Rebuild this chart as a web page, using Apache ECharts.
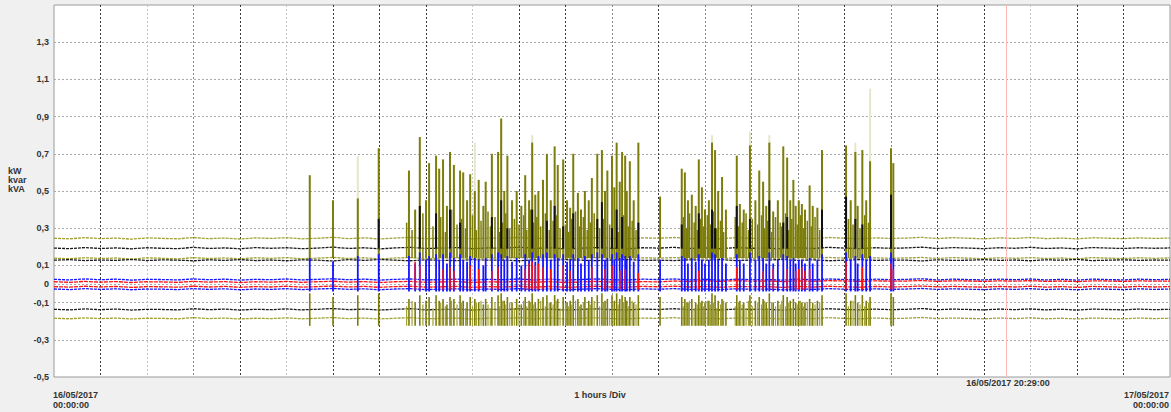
<!DOCTYPE html>
<html><head><meta charset="utf-8">
<script src="https://cdn.jsdelivr.net/npm/echarts@6/dist/echarts.min.js"></script>
<style>html,body{margin:0;padding:0;background:#f0f0f0}#c{width:1171px;height:412px}</style>
</head><body><div id="c"></div><script>
// ---- baseline traces, one value every STEP minutes from 00:00 to 24:00 ----
const STEP = 20;
const oliveHi = [
.246,.243,.249,.244,.247,.241,.248,.245,.243,.250,
.244,.247,.242,.248,.245,.249,.243,.246,.251,.244,
.248,.242,.247,.250,.244,.246,.249,.243,.247,.245,
.251,.244,.248,.242,.246,.249,.245,.243,.248,.246,
.250,.244,.247,.243,.249,.245,.246,.242,.248,.244,
.250,.246,.243,.248,.245,.247,.251,.244,.249,.246,
.243,.248,.245,.250,.244,.247,.242,.249,.246,.244,
.248,.245,.247];
const blackHi = [
.193,.190,.196,.191,.194,.189,.195,.192,.190,.197,
.191,.194,.189,.196,.192,.195,.190,.193,.198,.191,
.195,.189,.194,.197,.191,.193,.196,.190,.194,.192,
.198,.191,.195,.189,.193,.196,.192,.190,.195,.193,
.197,.191,.194,.190,.196,.192,.193,.189,.195,.191,
.197,.193,.190,.195,.192,.194,.198,.191,.196,.193,
.190,.195,.192,.197,.191,.194,.189,.196,.193,.191,
.195,.192,.194];
const oliveMid = [
.139,.136,.141,.137,.140,.134,.141,.138,.135,.142,
.137,.140,.135,.141,.138,.142,.136,.139,.143,.137,
.141,.135,.140,.142,.136,.139,.141,.135,.140,.138,
.143,.137,.141,.135,.139,.142,.138,.136,.141,.139,
.142,.137,.140,.136,.141,.138,.139,.135,.141,.137,
.143,.139,.136,.141,.138,.140,.143,.137,.142,.139,
.136,.141,.138,.142,.137,.140,.135,.142,.139,.137,
.141,.138,.140];
const blackMid = [
.128,.131,.126,.129,.127,.132,.126,.130,.128,.125,
.130,.127,.131,.126,.129,.125,.130,.128,.124,.131,
.127,.132,.128,.125,.130,.127,.126,.131,.128,.129,
.125,.130,.127,.131,.128,.126,.129,.131,.127,.128,
.126,.130,.128,.131,.126,.129,.128,.132,.127,.130,
.125,.128,.131,.127,.129,.128,.124,.130,.127,.128,
.131,.127,.129,.125,.130,.128,.132,.126,.128,.130,
.127,.129,.128];
const blueHi = [
.025,.022,.027,.023,.026,.021,.025,.024,.022,.027,
.023,.026,.021,.025,.023,.027,.022,.025,.028,.023,
.026,.021,.025,.027,.022,.024,.026,.021,.025,.023,
.027,.022,.026,.021,.024,.027,.023,.022,.026,.024,
.027,.022,.025,.021,.026,.023,.024,.021,.026,.022,
.027,.024,.022,.026,.023,.025,.028,.022,.026,.024,
.022,.026,.023,.027,.022,.025,.021,.026,.024,.022,
.026,.023,.025];
const redHi = [
.012,.009,.014,.010,.013,.008,.012,.011,.009,.014,
.010,.013,.008,.012,.010,.014,.009,.012,.015,.010,
.013,.008,.012,.014,.009,.011,.013,.008,.012,.010,
.014,.009,.013,.008,.011,.014,.010,.009,.013,.011,
.016,.013,.017,.014,.018,.015,.016,.013,.017,.014,
.018,.016,.014,.017,.015,.016,.019,.014,.017,.016,
.014,.017,.015,.018,.014,.016,.013,.017,.016,.014,
.017,.015,.016];
const redLo = [
-.014,-.017,-.012,-.016,-.013,-.018,-.014,-.015,-.017,-.012,
-.016,-.013,-.018,-.014,-.016,-.012,-.017,-.014,-.011,-.016,
-.013,-.018,-.014,-.012,-.017,-.015,-.013,-.018,-.014,-.016,
-.012,-.017,-.013,-.018,-.015,-.012,-.016,-.017,-.013,-.015,
-.012,-.016,-.014,-.017,-.013,-.015,-.014,-.018,-.013,-.016,
-.012,-.015,-.017,-.013,-.016,-.014,-.011,-.016,-.013,-.015,
-.017,-.013,-.016,-.012,-.017,-.014,-.018,-.013,-.015,-.017,
-.013,-.016,-.014];
const blueLo = [
-.027,-.030,-.025,-.029,-.026,-.031,-.027,-.028,-.030,-.025,
-.029,-.026,-.031,-.027,-.029,-.025,-.030,-.027,-.024,-.029,
-.026,-.031,-.027,-.025,-.030,-.028,-.026,-.031,-.027,-.029,
-.025,-.030,-.026,-.031,-.028,-.025,-.029,-.030,-.026,-.028,
-.025,-.029,-.027,-.030,-.026,-.028,-.027,-.031,-.026,-.029,
-.025,-.028,-.030,-.026,-.029,-.027,-.024,-.029,-.026,-.028,
-.030,-.026,-.029,-.025,-.030,-.027,-.031,-.026,-.028,-.030,
-.026,-.029,-.027];
const blackLo = [
-.136,-.139,-.134,-.138,-.135,-.140,-.136,-.137,-.139,-.133,
-.138,-.135,-.140,-.136,-.138,-.134,-.139,-.136,-.132,-.138,
-.135,-.140,-.136,-.133,-.139,-.137,-.135,-.140,-.136,-.138,
-.133,-.139,-.135,-.140,-.137,-.134,-.138,-.139,-.135,-.137,
-.133,-.138,-.136,-.139,-.135,-.137,-.136,-.140,-.135,-.138,
-.133,-.137,-.139,-.135,-.138,-.136,-.132,-.138,-.135,-.137,
-.139,-.135,-.138,-.134,-.139,-.136,-.140,-.135,-.137,-.139,
-.135,-.138,-.136];
const oliveLo = [
-.184,-.187,-.182,-.186,-.183,-.188,-.184,-.185,-.187,-.181,
-.186,-.183,-.188,-.184,-.186,-.182,-.187,-.184,-.180,-.186,
-.183,-.188,-.184,-.181,-.187,-.185,-.183,-.188,-.184,-.186,
-.181,-.187,-.183,-.188,-.185,-.182,-.186,-.187,-.183,-.185,
-.181,-.186,-.184,-.187,-.183,-.185,-.184,-.188,-.183,-.186,
-.181,-.185,-.187,-.183,-.186,-.184,-.180,-.186,-.183,-.185,
-.187,-.183,-.186,-.182,-.187,-.184,-.188,-.183,-.185,-.187,
-.183,-.186,-.184];

// ---- load events (minute of day) with peak values ----
const spikeT = [330,360,392,419,458,466,472,480,484,493,497,502,507,511,516,524,528,533,537,543,
548,554,557,565,573,577,581,585,591,597,603,608,613,617,621,625,631,636,641,646,
650,657,662,666,670,676,680,685,690,694,701,707,711,714,720,723,726,730,733,737,
739,743,748,754,782,810,814,818,823,828,832,836,840,845,849,853,857,862,867,881,
885,890,898,905,910,915,919,923,928,934,941,946,950,954,957,961,965,969,975,979,
985,991,1022,1028,1034,1037,1043,1048,1053,1080,1083];
const oliveTop = [.585,.45,.46,.73,.61,.40,.79,.45,.65,.69,.62,.67,.42,.71,.64,.61,.60,.45,.59,.50,
.56,.42,.55,.70,.71,.89,.50,.69,.45,.50,.42,.585,.45,.76,.48,.50,.56,.70,.45,.74,
.64,.67,.45,.41,.70,.49,.40,.50,.45,.57,.70,.72,.50,.61,.69,.52,.76,.55,.71,.69,
.50,.66,.45,.76,.47,.62,.60,.45,.48,.42,.67,.52,.40,.45,.76,.72,.50,.575,.40,.69,
.43,.40,.745,.45,.61,.55,.42,.76,.39,.45,.74,.68,.45,.56,.42,.45,.43,.40,.53,.42,
.41,.72,.745,.45,.71,.42,.72,.45,.66,.73,.65];
const blueTop = [.14,.12,.15,.16,.15,.11,.17,.13,.15,.16,.13,.16,.11,.17,.14,.16,.13,.12,.15,.14,
.13,.10,.14,.16,.17,.16,.13,.15,.12,.14,.10,.16,.13,.17,.12,.15,.16,.17,.13,.16,
.14,.16,.12,.13,.16,.14,.11,.15,.13,.16,.17,.16,.13,.14,.16,.13,.17,.14,.16,.15,
.13,.15,.12,.16,.13,.15,.14,.11,.14,.12,.16,.13,.11,.13,.17,.16,.13,.14,.11,.16,
.13,.11,.17,.13,.15,.14,.11,.17,.11,.13,.16,.15,.13,.14,.11,.13,.13,.11,.14,.11,
.13,.16,.17,.13,.15,.11,.16,.13,.15,.17,.14];
const lowerTop = [-.05,-.07,-.06,-.05,-.08,-.10,-.06,-.09,-.07,-.06,-.09,-.08,-.11,-.07,-.08,-.06,-.09,-.10,-.07,-.08,
-.10,-.11,-.08,-.07,-.06,-.05,-.09,-.07,-.10,-.08,-.11,-.07,-.09,-.05,-.10,-.08,-.07,-.06,-.10,-.06,
-.08,-.07,-.10,-.09,-.06,-.08,-.11,-.07,-.09,-.07,-.06,-.05,-.09,-.08,-.06,-.09,-.05,-.08,-.06,-.07,
-.09,-.07,-.10,-.06,-.07,-.07,-.08,-.10,-.08,-.10,-.06,-.09,-.10,-.09,-.05,-.06,-.09,-.08,-.10,-.06,
-.09,-.10,-.06,-.09,-.07,-.08,-.10,-.05,-.10,-.09,-.06,-.07,-.09,-.08,-.10,-.09,-.10,-.10,-.08,-.10,
-.09,-.06,-.05,-.09,-.06,-.10,-.06,-.09,-.07,-.05,-.07];
// smaller load events between the main ones
const fillT = [455,462,476,489,499,505,513,520,526,531,540,545,551,560,563,569,575,579,583,588,
594,600,606,610,615,619,623,628,634,639,644,648,653,660,664,668,673,678,683,688,
692,697,704,709,717,728,735,741,746,751,812,816,820,826,830,834,838,843,847,851,
855,860,864,879,883,888,893,896,901,908,913,917,921,926,931,937,939,944,948,952,
959,963,967,972,977,982,988,1025,1031,1040,1046,1051];
const fillTop = [.33,.29,.38,.31,.36,.28,.40,.32,.35,.30,.37,.29,.34,.39,.31,.36,.28,.33,.38,.30,
.35,.32,.37,.29,.40,.33,.36,.31,.38,.29,.34,.37,.30,.32,.28,.35,.39,.31,.36,.29,
.33,.38,.30,.35,.32,.28,.37,.31,.34,.29,.36,.30,.38,.33,.29,.35,.31,.37,.32,.39,
.30,.34,.28,.36,.31,.33,.38,.29,.35,.32,.37,.30,.34,.28,.36,.33,.31,.38,.29,.35,
.32,.37,.30,.34,.31,.36,.29,.35,.32,.30,.37,.33];
const fillLow = [-.12,-.09,-.11,-.13,-.10,-.12,-.09,-.11,-.10,-.13,-.12,-.10,-.09,-.11,-.13,-.10,-.12,-.09,-.11,-.10,
-.13,-.11,-.09,-.12,-.10,-.11,-.13,-.09,-.12,-.10,-.11,-.09,-.13,-.10,-.12,-.11,-.09,-.12,-.10,-.13,
-.11,-.09,-.12,-.10,-.13,-.11,-.10,-.12,-.09,-.11,-.12,-.10,-.09,-.13,-.11,-.10,-.12,-.09,-.11,-.10,
-.13,-.11,-.09,-.12,-.10,-.11,-.13,-.09,-.12,-.10,-.11,-.09,-.13,-.10,-.12,-.11,-.09,-.12,-.10,-.13,
-.11,-.09,-.12,-.10,-.13,-.11,-.10,-.12,-.09,-.11,-.12,-.10];
const blackT = [419,472,493,511,524,565,577,585,617,636,646,657,670,701,707,720,726,733,754,810,832,849,853,881,898,923,941,946,991,1022,1034,1043,1080];
const blackTop = [.35,.42,.38,.40,.33,.36,.45,.30,.40,.34,.42,.31,.38,.35,.44,.30,.40,.36,.33,.32,.38,.40,.30,.42,.35,.45,.33,.36,.40,.47,.35,.32,.48];
const paleT = [392,543,617,849,898,923,991,1034,1053];
const paleTop = [.69,.76,.80,.80,.82,.80,.70,.76,1.05];
const redT = [466,472,502,511,516,537,548,565,573,608,613,617,621,625,631,641,657,666,694,711,720,730,737,754,832,881,915,928,946,957,961,965,969,975,1022,1043,1080,1083];
const redTop = [.12,.10,.08,.09,.07,.10,.08,.07,.09,.08,.11,.12,.10,.11,.09,.08,.10,.07,.09,.08,.10,.07,.08,.06,.07,.09,.07,.08,.08,.07,.08,.09,.07,.08,.12,.09,.11,.08];
// band levels the event traces start from
const oliveBase = 0.14, paleBase = 0.25, blackBase = 0.19, blueBase = -0.04, redBase = -0.03, lowerBase = -0.225;

// ---- axes / labels ----
const yTickValues = [-0.5,-0.3,-0.1,0,0.1,0.3,0.5,0.7,0.9,1.1,1.3];
const yTickLabels = ['-0,5','-0,3','-0,1','0','0,1','0,3','0,5','0,7','0,9','1,1','1,3'];
const unitLabels = ['kW','kvar','kVA'];
const startLabel = ['16/05/2017','00:00:00'];
const endLabel = ['17/05/2017','00:00:00'];
const divLabel = '1 hours /Div';
const cursorMinute = 1229;
const cursorLabel = '16/05/2017 20:29:00';

const D='#3a3a3a', M='#8a8a8a', L='#c4c4c4', T='rgba(0,0,0,0)';
const hourShade = [T,D,L,M,D,L,D,D,D,L,D,D,M,D,M,M,M,D,M,D,D,L,D,D,T];
const yShade = [];
for (let k = -5; k <= 15; k++) {
  const on = yTickValues.some(v => Math.round(v*10) === k) && k !== -5;
  yShade.push(on ? '#a8a8a8' : T);
}
const labelMap = {};
yTickValues.forEach((v,i)=>{ labelMap[Math.round(v*10)] = yTickLabels[i]; });

function band(arr, color, z, dash) {
  return {type:'line', data: arr.map((v,i)=>[i*STEP, v]), showSymbol:false, silent:true, z,
    lineStyle:{color, width:1.3, type: dash || [3,1]}, animation:false};
}
function segs(t, lo, hi, color, width, z) {
  return {type:'custom', silent:true, z, animation:false, clip:true,
    encode:{x:0, y:[1,2]},
    data: t.map((m,i)=>[m, Array.isArray(lo)?lo[i]:lo, hi[i]]),
    renderItem:(p, api)=>{
      const a = api.coord([api.value(0), api.value(1)]);
      const b = api.coord([api.value(0), api.value(2)]);
      return {type:'line', shape:{x1:a[0], y1:a[1], x2:b[0], y2:b[1]}, style:{stroke:color, lineWidth:width}};
    }};
}
const OLIVE='#7d7d0c', OLIVE2='#a0a035', PALE='#e6e6cc', BLUE='#1414ff', RED='#ff1010';
const font = 'Liberation Sans';
const txt = (x,y,text,align)=>({type:'text', x, y, style:{text, fill:'#333', font:'bold 9px "'+font+'"', textAlign:align, textVerticalAlign:'middle'}});

const chart = echarts.init(document.getElementById('c'), null, {renderer:'svg'});
const series = [
  segs(paleT, paleBase, paleTop, PALE, 2, 1),
  Object.assign(band(oliveHi, OLIVE2, 2), {markLine:{silent:true, symbol:'none', label:{show:false},
     lineStyle:{color:'#ffb8b8', type:'solid', width:1}, data:[{xAxis:cursorMinute}], animation:false}}),
  band(blackHi, '#1a1a1a', 2),
  band(oliveMid, OLIVE2, 2),
  band(blackMid, '#1a1a1a', 2),
  band(blackLo, '#1a1a1a', 2),
  band(oliveLo, OLIVE2, 2),
  segs(fillT, oliveBase, fillTop, OLIVE, 1.5, 3),
  segs(spikeT, oliveBase, oliveTop, OLIVE, 2, 3),
  segs(blackT, blackBase, blackTop, '#111', 2, 4),
  segs(spikeT, lowerBase, lowerTop, OLIVE, 1.6, 3),
  segs(fillT, lowerBase, fillLow, OLIVE2, 1.2, 3),
  band(redHi, RED, 5, [4,1]),
  band(redLo, RED, 5, [4,1]),
  band(blueHi, BLUE, 6),
  band(blueLo, BLUE, 6),
  segs(spikeT, blueBase, blueTop, BLUE, 1.8, 7),
  segs(redT, redBase, redTop, RED, 1.5, 8)
];
chart.setOption({
  animation:false,
  backgroundColor:'#f0f0f0',
  grid:{left:54, right:1, top:5, bottom:35, show:true, backgroundColor:'#fff', borderColor:'#9a9a9a', borderWidth:1},
  xAxis:{type:'value', min:0, max:1440, interval:60,
    axisLabel:{show:false}, axisTick:{show:false}, axisLine:{show:false},
    splitLine:{show:true, showMinLine:true, showMaxLine:true, lineStyle:{color:hourShade, type:[2,2], width:1}}},
  yAxis:{type:'value', min:-0.5, max:1.5, interval:0.1,
    axisLine:{show:false}, axisTick:{show:false},
    axisLabel:{margin:5, color:'#333', fontSize:9, fontWeight:'bold', fontFamily:font,
      formatter:(v)=>{ const k=Math.round(v*10); return labelMap[k]!==undefined ? labelMap[k] : ''; }},
    splitLine:{show:true, showMinLine:true, showMaxLine:true, lineStyle:{color:yShade, type:[2,2], width:1}}},
  series,
  graphic:[
    txt(8,171,unitLabels[0],'left'), txt(8,180,unitLabels[1],'left'), txt(8,189,unitLabels[2],'left'),
    txt(53,395,startLabel[0],'left'), txt(53,405,startLabel[1],'left'),
    txt(1169,395,endLabel[0],'right'), txt(1169,405,endLabel[1],'right'),
    txt(600,395,divLabel,'center'),
    txt(1008,383,cursorLabel,'center')
  ]
});
</script></body></html>
